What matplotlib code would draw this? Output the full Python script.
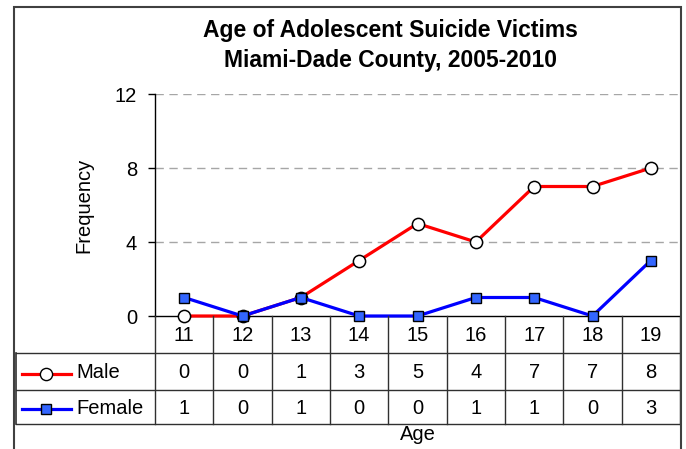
import matplotlib.pyplot as plt
from matplotlib.patches import Rectangle
from matplotlib.lines import Line2D

plt.rc('font', family=['Liberation Sans', 'DejaVu Sans'])

# Data
ages = ['11', '12', '13', '14', '15', '16', '17', '18', '19']
male = [0, 0, 1, 3, 5, 4, 7, 7, 8]
female = [1, 0, 1, 0, 0, 1, 1, 0, 3]
yticks = [0, 4, 8, 12]

W, H = 686, 449
FS = 14.5


def fx(px):
    return px / W


def fy(py):
    return 1 - py / H


def main():
    fig = plt.figure(figsize=(W / 100, H / 100), dpi=100)

    # outer frame
    fig.add_artist(Rectangle((fx(14), fy(460)), fx(681) - fx(14), fy(7) - fy(460),
                             transform=fig.transFigure, fill=False,
                             edgecolor='#404040', linewidth=1.5))

    # plot area
    left, right, top, bottom = 155, 680, 94, 316
    ax = fig.add_axes([fx(left), fy(bottom), fx(right) - fx(left), fy(top) - fy(bottom)])
    n = len(ages)
    xs = list(range(n))
    ax.plot(xs, male, color='#FF0000', linewidth=2.3, marker='o', markersize=8.8,
            markerfacecolor='white', markeredgecolor='black', markeredgewidth=1.1,
            clip_on=False, zorder=3, label='Male')
    ax.plot(xs, female, color='#0000FF', linewidth=2.3, marker='s', markersize=6.7,
            markerfacecolor='#3366FF', markeredgecolor='black', markeredgewidth=1.0,
            clip_on=False, zorder=4, label='Female')
    ax.set_xlim(-0.5, n - 0.5)
    ax.set_ylim(0, 12)
    ax.set_yticks(yticks)
    ax.set_yticklabels([str(t) for t in yticks], fontsize=FS)
    ax.tick_params(axis='y', direction='out', length=5, width=1, pad=8)
    ax.set_xticks([])
    for t in yticks[1:]:
        ax.plot([-0.5, n - 0.5], [t, t], color='#A6A6A6', linewidth=1,
                linestyle=(0, (6, 4)), zorder=1)
    ax.spines['top'].set_visible(False)
    ax.spines['right'].set_visible(False)
    ax.spines['left'].set_linewidth(1)
    ax.spines['bottom'].set_linewidth(1)
    ax.set_ylabel('Frequency', fontsize=FS, labelpad=15)
    ax.patch.set_alpha(0)

    # data table below the plot
    tl, tb = 16, 424
    colw = (right - left) / n
    axt = fig.add_axes([fx(tl), fy(tb), fx(right) - fx(tl), fy(bottom) - fy(tb)])
    axt.axis('off')
    x0 = -0.5 - (left - tl) / colw
    axt.set_xlim(x0, n - 0.5)
    axt.set_ylim(tb, bottom)
    rows = [316, 353, 390, 424]
    lc = '#303030'
    for i in range(n + 1):
        axt.plot([i - 0.5, i - 0.5], [rows[0], rows[-1]], color=lc, linewidth=1, clip_on=False)
    axt.plot([x0, x0], [rows[1], rows[-1]], color=lc, linewidth=1.2, clip_on=False)
    for r in rows[1:]:
        axt.plot([x0, n - 0.5], [r, r], color=lc, linewidth=1, clip_on=False)

    rc = [(rows[i] + rows[i + 1]) / 2 for i in range(3)]
    for i, a in enumerate(ages):
        axt.text(i, rc[0] + 1, a, ha='center', va='center', fontsize=FS)
        axt.text(i, rc[1] + 1, str(male[i]), ha='center', va='center', fontsize=FS)
        axt.text(i, rc[2] + 1, str(female[i]), ha='center', va='center', fontsize=FS)

    def px2x(px):
        return (px - left) / colw - 0.5

    for line, yc, name in [(ax.lines[0], rc[1], 'Male'), (ax.lines[1], rc[2], 'Female')]:
        axt.add_line(Line2D([px2x(22), px2x(71)], [yc + 2, yc + 2], color=line.get_color(),
                            linewidth=2.3, clip_on=False))
        axt.add_line(Line2D([px2x(46)], [yc + 2], marker=line.get_marker(),
                            markersize=line.get_markersize(),
                            markerfacecolor=line.get_markerfacecolor(),
                            markeredgecolor='black', markeredgewidth=1.0,
                            linestyle='none', clip_on=False))
        axt.text(px2x(76), yc + 1, name, ha='left', va='center', fontsize=FS)

    fig.text(fx(418), fy(434), 'Age', ha='center', va='center', fontsize=FS)

    # title
    fig.text(fx(390), fy(30), 'Age of Adolescent Suicide Victims', ha='center', va='center',
             fontsize=16.5, fontweight='bold')
    fig.text(fx(390), fy(60), 'Miami-Dade County, 2005-2010', ha='center', va='center',
             fontsize=16.5, fontweight='bold')

    fig.savefig('out.png', dpi=100)


if __name__ == "__main__":
    main()
